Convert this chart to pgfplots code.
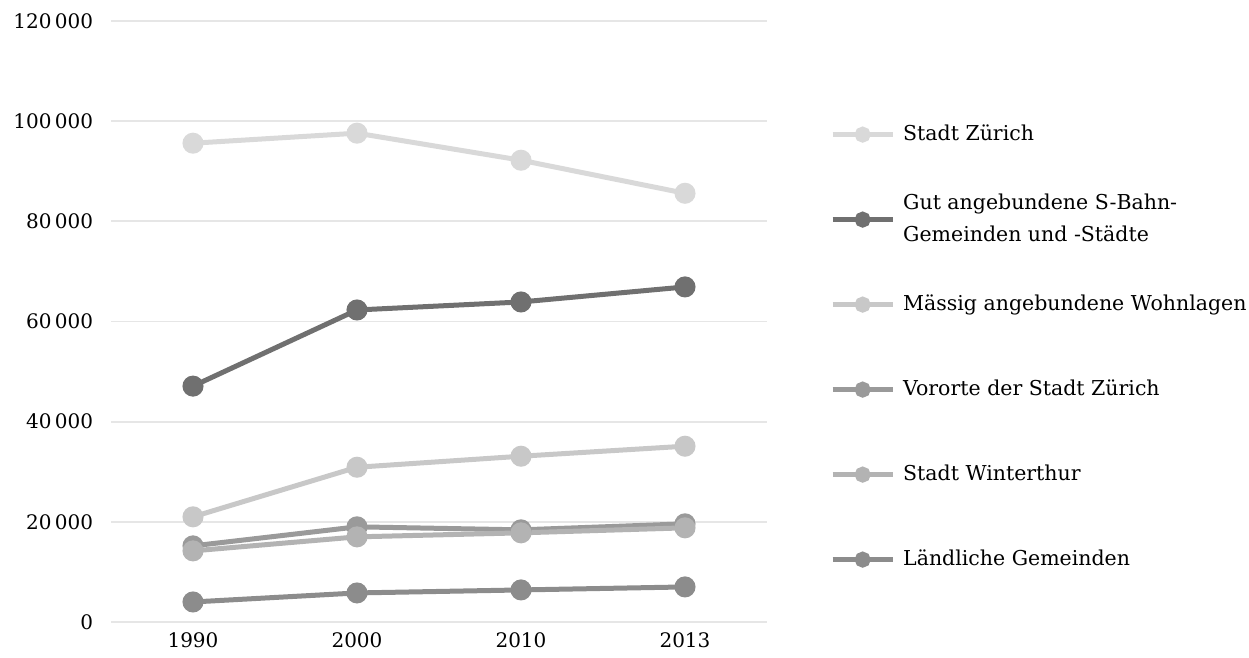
\documentclass[border=0pt]{standalone}
\usepackage{pgfplots}
\pgfplotsset{compat=1.18}
\usepackage{fontspec}
\setmainfont{DejaVu Serif}
\definecolor{cZ}{HTML}{D9D9D9}
\definecolor{cGut}{HTML}{707070}
\definecolor{cMae}{HTML}{C8C8C8}
\definecolor{cVor}{HTML}{9A9A9A}
\definecolor{cWin}{HTML}{B3B3B3}
\definecolor{cLae}{HTML}{8C8C8C}
\definecolor{gridc}{HTML}{E6E6E6}
\begin{document}
\fontsize{20bp}{32bp}\selectfont
\begin{tikzpicture}
\useasboundingbox (-111bp,-36bp) rectangle (1138bp,622bp);
\begin{axis}[
  at={(0,0)}, anchor=south west,
  scale only axis, width=656bp, height=601bp,
  xmin=-0.5, xmax=3.5, ymin=0, ymax=120000,
  xtick={0,1,2,3}, xticklabels={1990,2000,2010,2013},
  ytick={0,20000,40000,60000,80000,100000,120000},
  yticklabels={0,20\,000,40\,000,60\,000,80\,000,100\,000,120\,000},
  scaled y ticks=false,
  ymajorgrids, major grid style={color=gridc, line width=1.8bp},
  axis line style={draw=none}, major tick length=0pt,
  tick label style={font=\fontsize{20bp}{24bp}\selectfont},
  yticklabel style={xshift=-11bp},
  xticklabel style={yshift=-4bp},
  every axis plot/.append style={line width=5bp, mark=*, mark size=8bp},
  legend image code/.code={\draw[mark repeat=2,mark phase=2, mark size=5.5bp] plot coordinates {(0bp,0bp)(30bp,0bp)(60bp,0bp)};},
  legend style={at={(1.096,0.882)}, anchor=north west, draw=none, fill=none,
     inner sep=0pt, row sep=0pt, column sep=6bp,
     font=\fontsize{20.5bp}{32bp}\selectfont,
     cells={anchor=west, align=left, minimum height=85bp}},
  legend cell align=left,
]
\addplot[color=cZ] coordinates {(0,95600) (1,97600) (2,92200) (3,85600)};
\addlegendentry{Stadt Zürich}
\addplot[color=cGut] coordinates {(0,47100) (1,62300) (2,63900) (3,66900)};
\addlegendentry{Gut angebundene S-Bahn-\\Gemeinden und -Städte}
\addplot[color=cMae] coordinates {(0,21000) (1,30900) (2,33100) (3,35100)};
\addlegendentry{Mässig angebundene Wohnlagen}
\addplot[color=cVor] coordinates {(0,15200) (1,19000) (2,18400) (3,19600)};
\addlegendentry{Vororte der Stadt Zürich}
\addplot[color=cWin] coordinates {(0,14200) (1,17000) (2,17800) (3,18800)};
\addlegendentry{Stadt Winterthur}
\addplot[color=cLae] coordinates {(0,4000) (1,5800) (2,6400) (3,7000)};
\addlegendentry{Ländliche Gemeinden}
\end{axis}
\end{tikzpicture}
\end{document}
